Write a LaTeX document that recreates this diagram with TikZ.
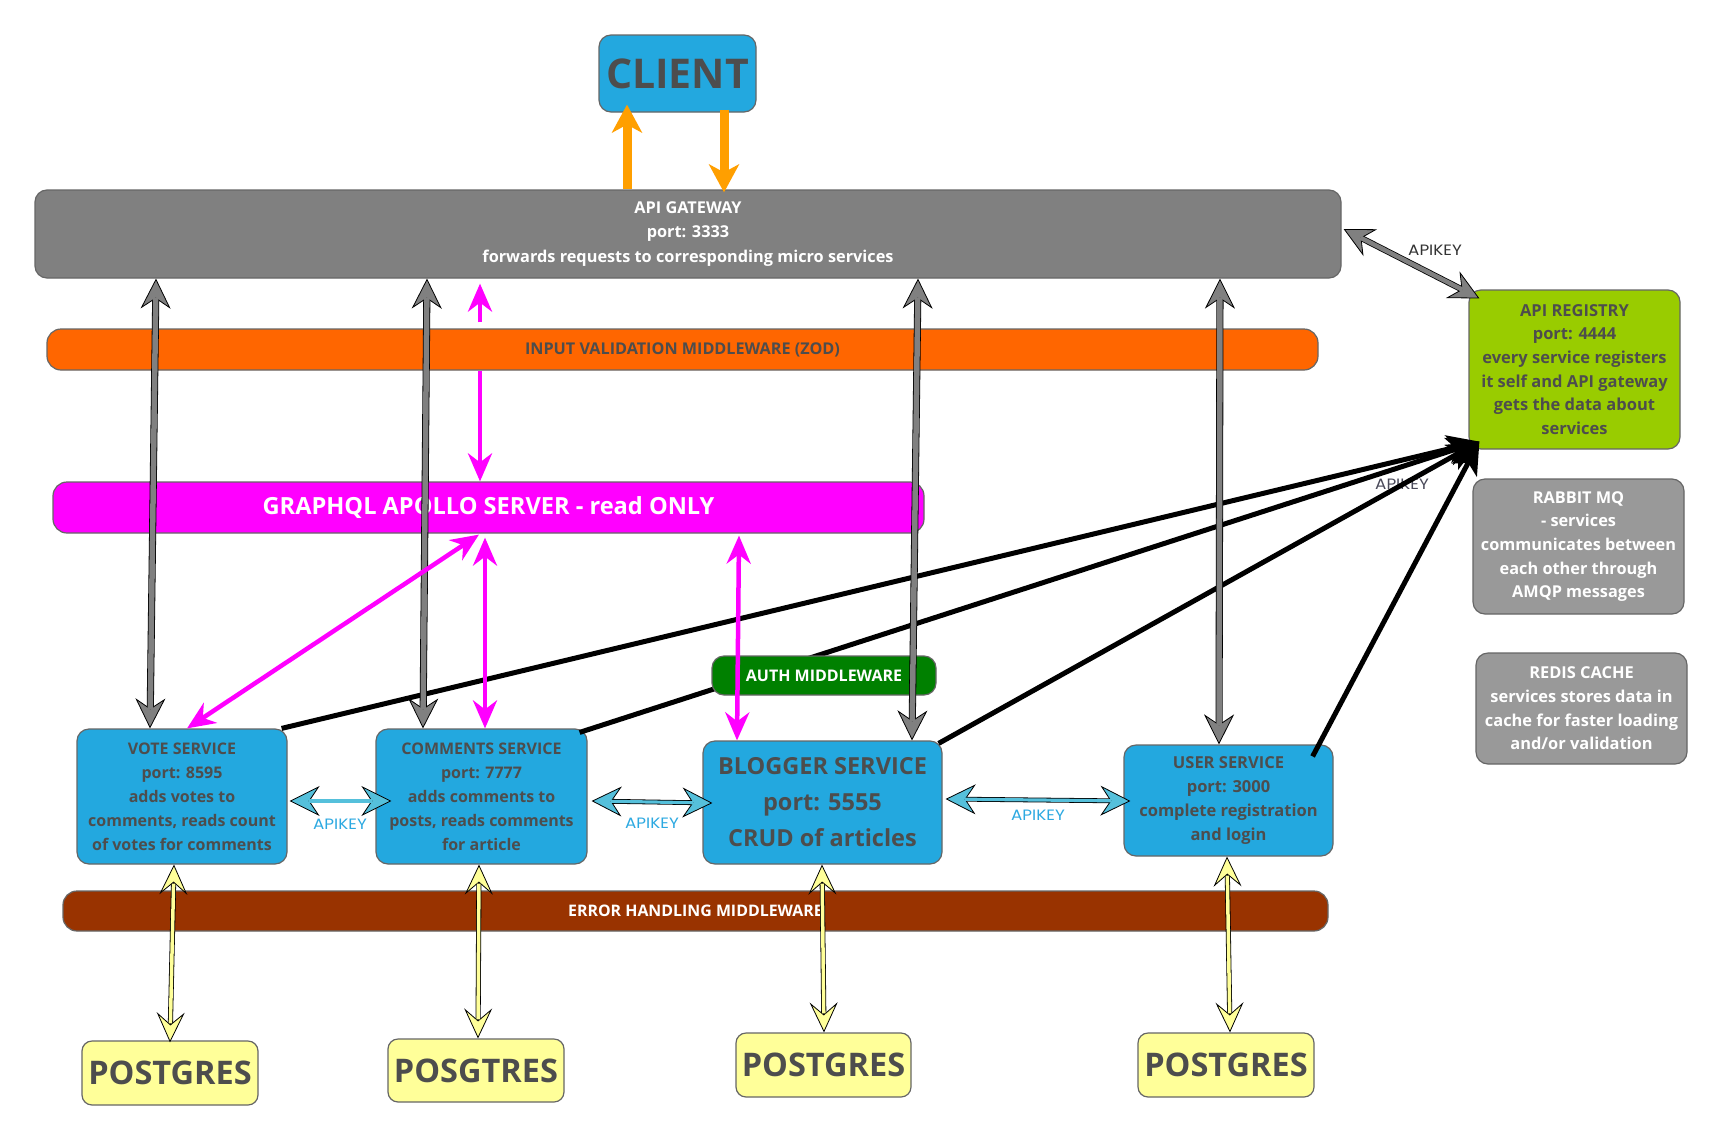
\documentclass[tikz,border=0pt]{standalone}
\usepackage{fontspec}
\usepackage{graphicx}
\setmainfont{Open Sans}
\newfontfamily\popfont{Poppins}
\usetikzlibrary{arrows.meta,calc}
\definecolor{svc}{HTML}{23A8DF}
\definecolor{gwc}{HTML}{808080}
\definecolor{orangebar}{HTML}{FF6600}
\definecolor{mag}{HTML}{FF00FF}
\definecolor{authg}{HTML}{008000}
\definecolor{errb}{HTML}{993300}
\definecolor{regc}{HTML}{99CC00}
\definecolor{lgray}{HTML}{999999}
\definecolor{pgc}{HTML}{FFFF99}
\definecolor{txt}{HTML}{4D4D4D}
\definecolor{bord}{HTML}{666666}
\definecolor{akey}{HTML}{2CA9E1}
\definecolor{cyanarr}{HTML}{55C0DB}
\definecolor{orangearr}{HTML}{FF9F00}
\definecolor{darklbl}{HTML}{4A4A5A}
\newcommand\akeytext{\scalebox{1.12}[1]{APIKEY}}
\tikzset{
  gtip/.tip={Stealth[length=30pt,width=30pt,inset=10pt,line width=0.8pt,fill=gwc]},
  ctip/.tip={Stealth[length=30pt,width=30pt,inset=10pt,line width=0.8pt,fill=cyanarr]},
  ytip/.tip={Stealth[length=30pt,width=28pt,inset=12pt,line width=0.8pt,fill=pgc]},
  mtip/.tip={Stealth[length=28pt,width=24pt,inset=9pt]},
  btip/.tip={Stealth[length=32pt,width=28pt,inset=8pt]},
  otip/.tip={Stealth[length=28pt,width=30pt,inset=8pt]},
  box/.style={draw=bord, line width=1.2pt, rounded corners=12pt, inner sep=0pt,
    align=center, text=txt, font=\bfseries\fontsize{16}{24}\selectfont},
  bar/.style={box, rounded corners=14pt},
  wtxt/.style={text=white},
  akeylbl/.style={font=\popfont\fontsize{15}{15}\selectfont, text=akey, inner sep=0pt},
  magarr/.style={line width=4.5pt, mag},
  blkarr/.style={line width=5pt, black, -btip},
  orarr/.style={line width=9pt, orangearr, -otip},
}
\newcommand\dblarr[5]{%
  \draw[line width=#3+1.6pt, black, #1-#1] #4 -- #5;
  \draw[line width=#3, #2, shorten <=19pt, shorten >=19pt] #4 -- #5;
}
\begin{document}
\begin{tikzpicture}[x=1pt,y=-1pt]
\useasboundingbox (0,0) rectangle (1724,1143);
\fill[white] (0,0) rectangle (1724,1143);

% boxes and bars
\node[box, fill=svc, minimum width=157pt, minimum height=77pt,
  font=\bfseries\fontsize{41}{41}\selectfont] (client) at (677.5,73.5) {CLIENT};
\node[box, fill=gwc, wtxt, minimum width=1306pt, minimum height=88pt,
  font=\bfseries\fontsize{16.3}{24.5}\selectfont] (gw) at (688,234)
  {API GATEWAY\\port: 3333\\forwards requests to corresponding micro services};
\node[bar, fill=orangebar, minimum width=1271pt, minimum height=41pt,
  font=\bfseries\fontsize{16.2}{18}\selectfont] (ival) at (682.5,349.5)
  {INPUT VALIDATION MIDDLEWARE (ZOD)};
\node[bar, fill=mag, wtxt, minimum width=871pt, minimum height=51pt,
  font=\bfseries\fontsize{23.6}{26}\selectfont] (gql) at (488.5,507.5)
  {GRAPHQL APOLLO SERVER - read ONLY};
\node[box, fill=svc, minimum width=210pt, minimum height=135pt] (vote) at (182,796.5)
  {VOTE SERVICE\\port: 8595\\adds votes to\\comments, reads count\\of votes for comments};
\node[box, fill=svc, minimum width=211pt, minimum height=135pt] (comm) at (481.5,796.5)
  {COMMENTS SERVICE\\port: 7777\\adds comments to\\posts, reads comments\\for article};
\node[box, fill=svc, minimum width=239pt, minimum height=123pt,
  font=\bfseries\fontsize{23.5}{36}\selectfont] (blog) at (822.5,802.5)
  {BLOGGER SERVICE\\port: 5555\\CRUD of articles};
\node[box, fill=svc, minimum width=209pt, minimum height=111pt,
  font=\bfseries\fontsize{16.5}{24}\selectfont] (user) at (1228.5,800.5)
  {USER SERVICE\\port: 3000\\complete registration\\and login};
\node[box, fill=regc, minimum width=211pt, minimum height=159pt,
  font=\bfseries\fontsize{16.5}{23.7}\selectfont] (reg) at (1574.5,369.5)
  {API REGISTRY\\port: 4444\\every service registers\\it self and API gateway\\gets the data about\\services};
\node[box, fill=lgray, wtxt, minimum width=211pt, minimum height=135pt,
  font=\bfseries\fontsize{16.3}{23.7}\selectfont] (rabbit) at (1578.5,546.5)
  {RABBIT MQ\\- services\\communicates between\\each other through\\AMQP messages};
\node[box, fill=lgray, wtxt, minimum width=211pt, minimum height=111pt,
  font=\bfseries\fontsize{16.4}{23.7}\selectfont] (redis) at (1581.5,708.5)
  {REDIS CACHE\\services stores data in\\cache for faster loading\\and/or validation};
\node[bar, fill=errb, wtxt, minimum width=1265pt, minimum height=40pt,
  font=\bfseries\fontsize{15.9}{18}\selectfont] (err) at (695.5,911)
  {ERROR HANDLING MIDDLEWARE};
\node[box, fill=pgc, rounded corners=10pt, minimum width=176pt, minimum height=64pt,
  font=\bfseries\fontsize{32.5}{32.5}\selectfont] (pg1) at (170,1073) {POSTGRES};
\node[box, fill=pgc, rounded corners=10pt, minimum width=176pt, minimum height=63pt,
  font=\bfseries\fontsize{32.5}{32.5}\selectfont] (pg2) at (476,1070.5) {POSGTRES};
\node[box, fill=pgc, rounded corners=10pt, minimum width=175pt, minimum height=64pt,
  font=\bfseries\fontsize{32.5}{32.5}\selectfont] (pg3) at (823.5,1065) {POSTGRES};
\node[box, fill=pgc, rounded corners=10pt, minimum width=176pt, minimum height=64pt,
  font=\bfseries\fontsize{32.5}{32.5}\selectfont] (pg4) at (1226,1065) {POSTGRES};

% label under the registry lines
\node[akeylbl, text=darklbl] (k5) at (1402,484) {\akeytext};

% black registration lines
\draw[blkarr] ($(vote.north east)+(-6,0)$) -- ($(reg.south west)+(11,-8)$);
\draw[blkarr] ($(comm.north east)+(-8,4)$) -- ($(reg.south west)+(11,-8)$);
\draw[blkarr] ($(blog.north east)+(-4,3)$) -- ($(reg.south west)+(11,-8)$);
\draw[blkarr] ($(user.north east)+(-21,12)$) -- ($(reg.south west)+(11,-8)$);

% auth middleware on top of the lines
\node[box, fill=authg, wtxt, minimum width=224pt, minimum height=39pt] (auth) at (824,675.5)
  {AUTH MIDDLEWARE};

% gateway <-> services
\dblarr{gtip}{gwc}{5.5pt}{($(gw.south)+(-532,0)$)}{($(vote.north)+(-32,0)$)}
\dblarr{gtip}{gwc}{5.5pt}{($(gw.south)+(-261,0)$)}{($(comm.north)+(-58.5,0)$)}
\dblarr{gtip}{gwc}{5.5pt}{($(gw.south)+(230,0)$)}{($(blog.north)+(89.5,0)$)}
\dblarr{gtip}{gwc}{5.5pt}{($(gw.south)+(532,0)$)}{($(user.north)+(-9.5,0)$)}
% gateway <-> registry
\dblarr{gtip}{gwc}{4.5pt}{($(gw.east)+(2,-5)$)}{($(reg.north west)+(11,9)$)}

% graphql arrows
\draw[magarr, -mtip] ($(ival.north)+(-202.5,-6)$) -- ($(gw.south)+(-208,5)$);
\draw[magarr, -mtip] ($(ival.south)+(-202.5,0)$) -- ($(gql.north)+(-8.5,0)$);
\draw[magarr, mtip-mtip] ($(gql.south)+(-9.5,1)$) -- ($(vote.north)+(5,0)$);
\draw[magarr, mtip-mtip] ($(gql.south)+(-3.5,4)$) -- ($(comm.north)+(3.5,0)$);
\draw[magarr, mtip-mtip] ($(gql.south)+(250.5,2)$) -- ($(blog.north)+(-85.5,0)$);

% service <-> service
\dblarr{ctip}{cyanarr}{3.2pt}{($(vote.east)+(2,4.5)$)}{($(comm.west)+(16,4.5)$)}
\dblarr{ctip}{cyanarr}{3.2pt}{($(comm.east)+(4,4.5)$)}{($(blog.west)+(10,0.5)$)}
\dblarr{ctip}{cyanarr}{3.2pt}{($(blog.east)+(3,-3.5)$)}{($(user.west)+(7,0.5)$)}

% service <-> database
\dblarr{ytip}{pgc}{3.5pt}{($(vote.south)+(-8,0)$)}{($(pg1.north)+(0,2)$)}
\dblarr{ytip}{pgc}{3.5pt}{($(comm.south)+(-2.5,0)$)}{($(pg2.north)+(2,0)$)}
\dblarr{ytip}{pgc}{3.5pt}{($(blog.south)+(-0.5,0)$)}{($(pg3.north)+(0.5,0)$)}
\dblarr{ytip}{pgc}{3.5pt}{($(user.south)+(-1.5,0)$)}{($(pg4.north)+(4,0)$)}

% client <-> gateway
\draw[orarr] ($(gw.north)+(-61,0)$) -- ($(client.south)+(-50.5,-8)$);
\draw[orarr] ($(client.south)+(46.5,-3)$) -- ($(gw.north)+(36,3)$);

% APIKEY labels
\node[akeylbl] (k1) at (340,824) {\akeytext};
\node[akeylbl] (k2) at (652,823) {\akeytext};
\node[akeylbl] (k3) at (1038,815) {\akeytext};
\node[akeylbl, text=black!80] (k4) at (1435,250) {\akeytext};
\end{tikzpicture}
\end{document}
